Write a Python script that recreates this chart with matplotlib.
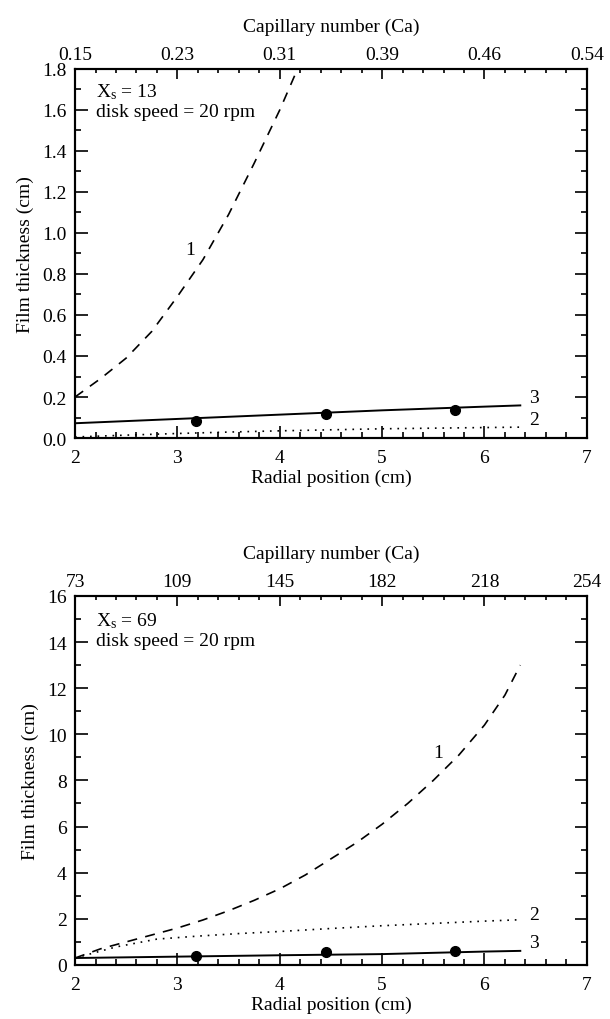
import numpy as np
import matplotlib
matplotlib.use("Agg")
import matplotlib.pyplot as plt
from matplotlib.ticker import MultipleLocator

plt.rcParams['font.family'] = ['Liberation Serif', 'DejaVu Serif']
plt.rcParams['mathtext.fontset'] = 'stix'

# ---- data ----
radial_ticks = [2, 3, 4, 5, 6, 7]
ca_labels_top = ["0.15", "0.23", "0.31", "0.39", "0.46", "0.54"]
ca_labels_bot = ["73", "109", "145", "182", "218", "254"]

# panel (a): X_s = 13
a_r1 = [2.0, 2.25, 2.5, 2.75, 3.0, 3.25, 3.5, 3.75, 4.0, 4.2]
a_h1 = [0.20, 0.29, 0.39, 0.52, 0.69, 0.87, 1.09, 1.34, 1.60, 1.83]
a_r2 = [2.0, 2.5, 3.0, 3.5, 4.0, 4.5, 5.0, 5.5, 6.0, 6.35]
a_h2 = [0.005, 0.014, 0.022, 0.029, 0.035, 0.040, 0.045, 0.048, 0.051, 0.053]
a_r3 = [2.0, 3.0, 4.0, 5.0, 6.0, 6.35]
a_h3 = [0.072, 0.093, 0.114, 0.135, 0.153, 0.159]
a_exp_r = [3.18, 4.45, 5.71]
a_exp_h = [0.083, 0.117, 0.137]

# panel (b): X_s = 69
b_r1 = [2.0, 2.25, 2.5, 2.75, 3.0, 3.25, 3.5, 3.75, 4.0, 4.25, 4.5, 4.75,
        5.0, 5.25, 5.5, 5.75, 6.0, 6.2, 6.35]
b_h1 = [0.3, 0.7, 1.0, 1.3, 1.6, 1.95, 2.35, 2.8, 3.3, 3.9, 4.6, 5.3,
        6.1, 7.0, 8.0, 9.1, 10.4, 11.7, 13.0]
b_r2 = [2.0, 2.4, 2.8, 3.2, 3.6, 4.0, 4.5, 5.0, 5.5, 6.0, 6.35]
b_h2 = [0.3, 0.78, 1.12, 1.25, 1.36, 1.45, 1.58, 1.70, 1.80, 1.90, 1.96]
b_r3 = [2.0, 3.0, 4.0, 5.0, 6.0, 6.35]
b_h3 = [0.30, 0.36, 0.42, 0.47, 0.58, 0.61]
b_exp_r = [3.18, 4.45, 5.71]
b_exp_h = [0.38, 0.55, 0.61]


def style_axes(ax, ymax, ymajor, yminor, ca_labels):
    ax.set_xlim(2, 7)
    ax.set_ylim(0, ymax)
    ax.set_xticks(radial_ticks)
    ax.xaxis.set_minor_locator(MultipleLocator(0.2))
    ax.yaxis.set_major_locator(MultipleLocator(ymajor))
    ax.yaxis.set_minor_locator(MultipleLocator(yminor))
    ax.tick_params(which='both', direction='in', top=False, right=True,
                   labelsize=14, width=1.2)
    ax.tick_params(which='major', length=9, pad=6)
    ax.tick_params(axis='x', which='major', pad=8)
    ax.tick_params(which='minor', length=4)
    for s in ax.spines.values():
        s.set_linewidth(1.5)
    ax.set_xlabel("Radial position (cm)", fontsize=14, labelpad=2)
    ax.set_ylabel("Film thickness (cm)", fontsize=14, labelpad=6)

    top = ax.twiny()
    top.set_xlim(2, 7)
    top.set_xticks(radial_ticks)
    top.set_xticklabels(ca_labels)
    top.xaxis.set_minor_locator(MultipleLocator(0.2))
    top.tick_params(which='both', direction='in', labelsize=14, width=1.2)
    top.tick_params(which='major', length=7, pad=4)
    top.tick_params(which='minor', length=3)
    top.set_xlabel("Capillary number (Ca)", fontsize=14, labelpad=11)
    for s in top.spines.values():
        s.set_linewidth(1.5)


fig = plt.figure(figsize=(6.1, 10.2), dpi=100)
ax1 = fig.add_axes([0.123, 0.5696, 0.839, 0.3618])
ax2 = fig.add_axes([0.123, 0.053, 0.839, 0.3618])

dash = (0, (6, 5))
dot = (0, (1, 3.5))

# top panel
ax1.plot(a_r1, a_h1, color='black', lw=1.2, linestyle=dash)
ax1.plot(a_r2, a_h2, color='black', lw=1.2, linestyle=dot)
ax1.plot(a_r3, a_h3, color='black', lw=1.4)
ax1.plot(a_exp_r, a_exp_h, 'o', color='black', ms=7)
ax1.text(3.12, 0.92, "1", fontsize=14, ha='center', va='center')
ax1.text(6.48, 0.20, "3", fontsize=14, ha='center', va='center')
ax1.text(6.48, 0.088, "2", fontsize=14, ha='center', va='center')
ax1.text(0.04, 0.94, r"$\mathregular{X_s}$ = 13", transform=ax1.transAxes,
         fontsize=14, va='center', ha='left')
ax1.text(0.04, 0.885, "disk speed = 20 rpm", transform=ax1.transAxes,
         fontsize=14, va='center', ha='left')
style_axes(ax1, 1.8, 0.2, 0.1, ca_labels_top)
ax1.set_yticks(np.arange(0, 1.81, 0.2))
ax1.set_yticklabels([f"{v:.1f}" for v in np.arange(0, 1.81, 0.2)])

# bottom panel
ax2.plot(b_r1, b_h1, color='black', lw=1.2, linestyle=dash)
ax2.plot(b_r2, b_h2, color='black', lw=1.2, linestyle=dot)
ax2.plot(b_r3, b_h3, color='black', lw=1.4)
ax2.plot(b_exp_r, b_exp_h, 'o', color='black', ms=7)
ax2.text(5.55, 9.2, "1", fontsize=14, ha='center', va='center')
ax2.text(6.48, 2.2, "2", fontsize=14, ha='center', va='center')
ax2.text(6.48, 0.97, "3", fontsize=14, ha='center', va='center')
ax2.text(0.04, 0.935, r"$\mathregular{X_s}$ = 69", transform=ax2.transAxes,
         fontsize=14, va='center', ha='left')
ax2.text(0.04, 0.878, "disk speed = 20 rpm", transform=ax2.transAxes,
         fontsize=14, va='center', ha='left')
style_axes(ax2, 16, 2, 1, ca_labels_bot)

fig.savefig("out.png", dpi=100)
